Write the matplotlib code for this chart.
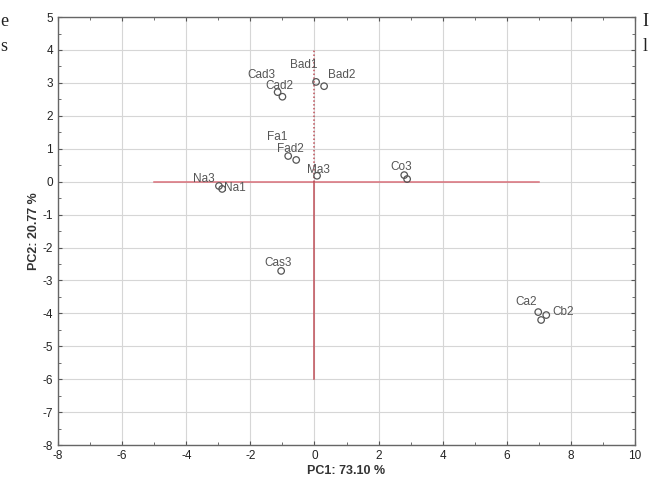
import numpy as np
import matplotlib.pyplot as plt
from matplotlib.ticker import MultipleLocator

plt.rcParams['axes.unicode_minus'] = False

# PCA scores
names = ['Cad3', 'Cad2', 'Bad1', 'Bad2', 'Fa1', 'Fad2', 'Ma3',
         'Na3', 'Na1', 'Co3', 'Co1', 'Cas3', 'Ca2', 'Cb2', 'Ca3']
pc1 = [-1.15, -1.0, 0.05, 0.3, -0.82, -0.57, 0.08,
       -2.98, -2.88, 2.8, 2.89, -1.04, 6.98, 7.23, 7.07]
pc2 = [2.72, 2.58, 3.03, 2.9, 0.78, 0.66, 0.18,
       -0.13, -0.22, 0.2, 0.08, -2.71, -3.96, -4.05, -4.2]
# label offsets (points) relative to each circle
offs = [(-12, 12), (-2, 8), (-9, 12), (13, 8), (-8, 14), (-4, 8), (1, 4),
        (-11, 5), (9, 1), (-2, 6), (None, None), (-2, 6), (-9, 7), (12, 2), (None, None)]

xlabel = 'PC1: 73.10 %'
ylabel = 'PC2: 20.77 %'

fig = plt.figure(figsize=(6.52, 4.87), dpi=100)
ax = fig.add_axes([0.089, 0.086, 0.885, 0.879])

ax.set_xlim(-8, 10)
ax.set_ylim(-8, 5)
ax.xaxis.set_major_locator(MultipleLocator(2))
ax.xaxis.set_minor_locator(MultipleLocator(1))
ax.yaxis.set_major_locator(MultipleLocator(1))
ax.yaxis.set_minor_locator(MultipleLocator(0.5))
ax.grid(True, which='major', color='#d6d6d6', lw=0.8)
ax.set_axisbelow(True)
ax.tick_params(which='both', direction='in', top=True, right=True,
               colors='#555555', labelsize=8.5, labelcolor='#222222')
ax.tick_params(which='major', length=3)
ax.tick_params(which='minor', length=2)
for s in ax.spines.values():
    s.set_color('#666666')
    s.set_linewidth(1.0)

# cross-hair through the origin
ax.plot([-5, 7], [0, 0], color='#d9707a', lw=1.1, zorder=1)
ax.plot([0, 0], [-6, 0], color='#c0505a', lw=1.1, zorder=1)
ax.plot([0, 0], [0, 4], color='#c0505a', lw=1.1, ls=(0, (1, 1.5)), zorder=1)

ax.scatter(pc1, pc2, s=22, facecolors='none', edgecolors='#555555',
           linewidths=0.9, zorder=3)
for n, x, y, o in zip(names, pc1, pc2, offs):
    if o[0] is None:
        continue
    ax.annotate(n, (x, y), xytext=o, textcoords='offset points',
                ha='center', va='center', fontsize=8.5, color='#555555',
                family='Liberation Sans', zorder=4)

ax.set_xlabel(xlabel, fontsize=9, fontweight='bold', color='#333333',
              family='Liberation Sans', labelpad=2)
ax.set_ylabel(ylabel, fontsize=9, fontweight='bold', color='#333333',
              family='Liberation Sans', labelpad=2)
for lab in ax.get_xticklabels() + ax.get_yticklabels():
    lab.set_family('Liberation Sans')

# fragments of the surrounding page text
for t, x, y in [('e', 0.0, 0.955), ('s', 0.0, 0.905), ('I', 0.985, 0.955), ('l', 0.985, 0.905)]:
    fig.text(x, y, t, fontsize=13, family='Liberation Serif', color='#222222',
             va='center', ha='left')

fig.savefig('out.png', dpi=100)
